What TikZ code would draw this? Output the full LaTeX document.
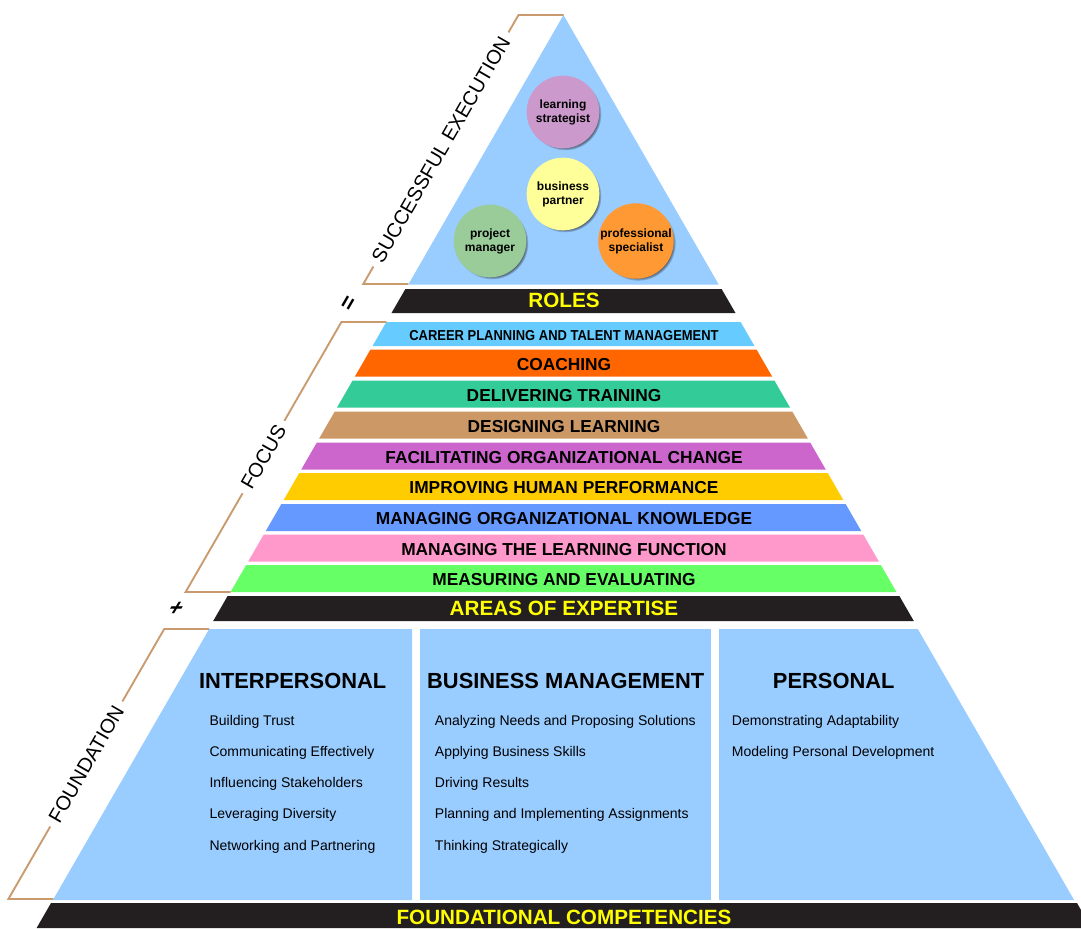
\documentclass[tikz,border=0pt]{standalone}
\usepackage{fontspec}
\setmainfont{Liberation Sans}
\usetikzlibrary{shadows}

\definecolor{sky}{HTML}{99CCFF}
\definecolor{ink}{HTML}{231F20}
\definecolor{signyellow}{HTML}{FFFF00}
\definecolor{tanline}{HTML}{C99A6E}
\definecolor{careerblue}{HTML}{66CCFF}
\definecolor{coachorange}{HTML}{FF6600}
\definecolor{trainteal}{HTML}{33CC99}
\definecolor{designtan}{HTML}{CC9966}
\definecolor{changeviolet}{HTML}{CC66CC}
\definecolor{perfgold}{HTML}{FFCC00}
\definecolor{knowblue}{HTML}{6699FF}
\definecolor{learnpink}{HTML}{FF99CC}
\definecolor{measgreen}{HTML}{66FF66}
\definecolor{rolelilac}{HTML}{CC99CC}
\definecolor{rolecream}{HTML}{FFFF99}
\definecolor{rolesage}{HTML}{99CC99}
\definecolor{roleorange}{HTML}{FF9933}

\begin{document}
\begin{tikzpicture}[x=0.75pt,y=-0.75pt,
    bracket/.style={draw=tanline, line width=1.4pt},
    bracketlabel/.style={fill=white, sloped, inner xsep=5pt, inner ysep=1pt, font=\fontsize{15}{15}\selectfont},
    bandtext/.style={font=\fontsize{13}{13}\selectfont\bfseries},
    bartext/.style={text=signyellow, font=\fontsize{15.5}{15.5}\selectfont\bfseries},
    heading/.style={anchor=base, font=\fontsize{16.4}{16.4}\selectfont\bfseries},
    item/.style={anchor=base west, inner sep=0pt, font=\fontsize{10.5}{10.5}\selectfont},
    role/.style={circle, minimum size=54.5pt, inner sep=0pt, align=center,
        font=\fontsize{9}{10.5}\selectfont\bfseries,
        circular drop shadow={shadow xshift=1.6pt, shadow yshift=-1.6pt, fill=black!85, opacity=1, shadow scale=1}}]
\useasboundingbox (0,0) rectangle (1081,928);

% top of the pyramid: the roles
\fill[sky] (563.5,15) -- (718.7,284.5) -- (408.3,284.5) -- cycle;
\node[role, fill=rolelilac] (learning) at (563,112) {learning\\strategist};
\node[role, fill=rolecream] (partner) at (563,194) {business\\partner};
\node[role, fill=rolesage] (project) at (490,241) {project\\manager};
\node[role, fill=roleorange] (specialist) at (636,241) {professional\\specialist};

\fill[ink] (405.4,289) -- (721.6,289) -- (735.5,313) -- (391.5,313) -- cycle;
\node[bartext] (roles) at (564,300.5) {ROLES};

% areas of expertise
\foreach \col/\top/\bot/\txt [count=\i] in {
    careerblue/322/346/{\scalebox{0.9}[1]{\fontsize{10.8}{10.8}\selectfont CAREER PLANNING AND TALENT MANAGEMENT}},
    coachorange/349.5/376.5/COACHING,
    trainteal/380.5/407.5/DELIVERING TRAINING,
    designtan/411.5/438.5/DESIGNING LEARNING,
    changeviolet/442.5/469.5/FACILITATING ORGANIZATIONAL CHANGE,
    perfgold/473/500/IMPROVING HUMAN PERFORMANCE,
    knowblue/504/531/MANAGING ORGANIZATIONAL KNOWLEDGE,
    learnpink/534.5/561.5/MANAGING THE LEARNING FUNCTION,
    measgreen/565/592/MEASURING AND EVALUATING} {
  \fill[\col] ({563.5-0.577*(\top-15)},\top) -- ({563.5+0.577*(\top-15)},\top)
      -- ({563.5+0.577*(\bot-15)},\bot) -- ({563.5-0.577*(\bot-15)},\bot) -- cycle;
  \node[bandtext] (area\i) at (564,{(\top+\bot)/2+1.5}) {\txt};
}

\fill[ink] (227.6,596) -- (899.4,596) -- (913.8,621) -- (213.2,621) -- cycle;
\node[bartext] (expertise) at (564,608.5) {AREAS OF EXPERTISE};

% foundation panels
\fill[sky] (209.2,629) -- (412,629) -- (412,900) -- (52.9,900) -- cycle;
\fill[sky] (420,629) rectangle (711,900);
\fill[sky] (719,629) -- (917.8,629) -- (1074.1,900) -- (719,900) -- cycle;

\node[heading] (inter) at (292.7,688) {INTERPERSONAL};
\node[heading] (busi) at (565.7,688) {BUSINESS MANAGEMENT};
\node[heading] (pers) at (833.7,688) {PERSONAL};

\foreach \txt [count=\i] in {Building Trust, Communicating Effectively, Influencing Stakeholders,
    Leveraging Diversity, Networking and Partnering}
  \node[item] (inter\i) at (209.3,{725+31.3*(\i-1)}) {\txt};
\foreach \txt [count=\i] in {Analyzing Needs and Proposing Solutions, Applying Business Skills,
    Driving Results, Planning and Implementing Assignments, Thinking Strategically}
  \node[item] (busi\i) at (434.7,{725+31.3*(\i-1)}) {\txt};
\foreach \txt [count=\i] in {Demonstrating Adaptability, Modeling Personal Development}
  \node[item] (pers\i) at (731.7,{725+31.3*(\i-1)}) {\txt};

\fill[ink] (51,903) -- (1077,903) -- (1081,910) -- (1081,928) -- (36.6,928) -- cycle;
\node[bartext] (foundational) at (564,917) {FOUNDATIONAL COMPETENCIES};

% brackets on the left side
\draw[bracket] (563.5,15) -- (518.5,15) -- node[bracketlabel] {SUCCESSFUL EXECUTION} (363.3,284) -- (408.3,284);
\draw[bracket] (386.4,322) -- (341.4,322) -- node[bracketlabel] {FOCUS} (185.6,592) -- (230.6,592);
\draw[bracket] (209.2,629) -- (164.2,629) -- node[bracketlabel] {FOUNDATION} (8.4,899) -- (53.4,899);

\node[rotate=60, font=\fontsize{17}{17}\selectfont\bfseries] (equals) at (350,304) {=};
\node[xslant=0.6, font=\fontsize{17}{17}\selectfont\bfseries] (times) at (176,609) {+};
\end{tikzpicture}
\end{document}
